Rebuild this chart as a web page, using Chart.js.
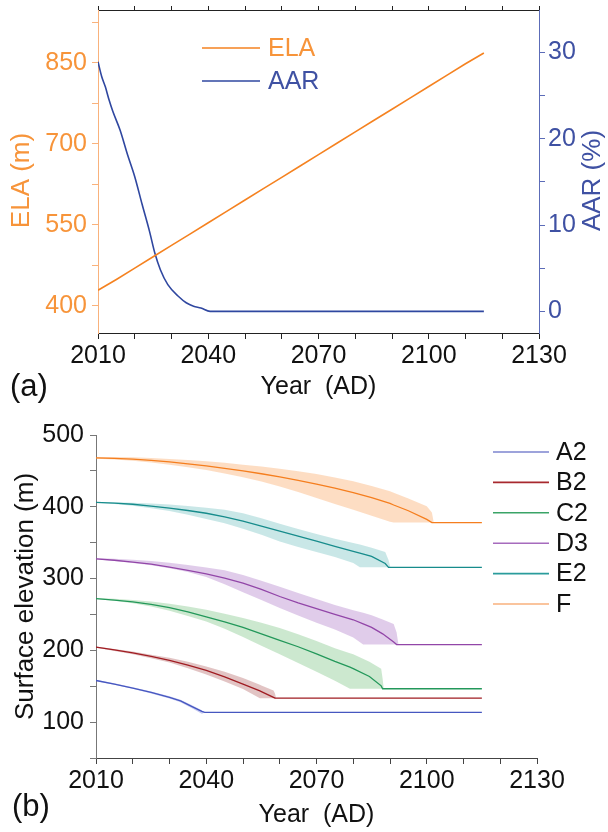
<!DOCTYPE html>
<html>
<head>
<meta charset="utf-8">
<script src="https://cdn.jsdelivr.net/npm/chart.js@4.4.0/dist/chart.umd.min.js"></script>
<style>
html, body { margin: 0; padding: 0; background: #fff; width: 608px; height: 832px; overflow: hidden; }
.panel { position: absolute; left: 0; width: 608px; }
#boxA { top: 0; height: 405px; }
#boxB { top: 405px; height: 427px; }
.tag { position: absolute; font-family: 'Liberation Sans', Arial, sans-serif; font-size: 31px; line-height: 1; color: #111; }
</style>
</head>
<body>
<div class="panel" id="boxA"><canvas id="chartA" width="608" height="405"></canvas></div>
<div class="panel" id="boxB"><canvas id="chartB" width="608" height="427"></canvas></div>
<div class="tag" style="left:10px;top:370px">(a)</div>
<div class="tag" style="left:12px;top:790px">(b)</div>
<script>
// ---- panel (a): ELA and AAR ----
const ELA_YEARS = [2010, 2015, 2020, 2025, 2030, 2035, 2040, 2045, 2050, 2055, 2060, 2065, 2070, 2075, 2080, 2085, 2090, 2095, 2100, 2105, 2110, 2115];
const ELA_M = [429, 449, 470, 491, 512, 533, 554, 575, 596, 617, 638, 659, 680, 701, 722, 743, 764, 785, 806, 827, 848, 868];

const AAR_YEARS = [2010, 2011, 2012, 2013, 2014, 2016, 2018, 2020, 2022, 2024, 2025.5, 2027, 2029, 2032, 2034, 2036, 2038, 2040.5, 2060, 2080, 2100, 2115];
const AAR_PCT = [28.9, 27.2, 26.0, 24.5, 23.2, 21.0, 18.2, 15.6, 12.4, 9.3, 6.7, 4.8, 3.1, 1.7, 1.0, 0.6, 0.4, 0, 0, 0, 0, 0];

// ---- panel (b): surface elevation (m), mean and range per glacier ----
const A2_YEARS = [2010, 2015, 2020, 2025, 2030, 2033, 2036, 2038.8, 2039.6, 2115];
const A2_MEAN = [158, 153, 147.5, 141.5, 134.5, 129.5, 122, 115, 113.5, 113.5];
const A2_UP = [159, 154, 148.5, 142.5, 136, 131, 124, 116.5, 113.5, 113.5];
const A2_LOW = [157, 152, 146.5, 140, 133, 127.5, 119.5, 111.5, 113.5, 113.5];

const B2_YEARS = [2010, 2015, 2020, 2025, 2030, 2035, 2040, 2045, 2050, 2054.6, 2055, 2058.3, 2058.7, 2059, 2115];
const B2_MEAN = [204.5, 200.5, 196.5, 191.5, 186, 179.5, 172, 163, 153, 143.5, 142.5, 134.5, 133.4, 133.4, 133.4];
const B2_UP = [205.5, 202, 198.5, 194, 189.5, 184, 177.5, 170, 161.5, 152, 151, 144, 140, 133.4, 133.4];
const B2_LOW = [203.5, 199, 194.5, 189, 183, 175, 166.5, 156.5, 146, 133.4, 133.4, 133.4, 133.4, 133.4, 133.4];

const C2_YEARS = [2010, 2015, 2020, 2025, 2030, 2035, 2040, 2045, 2050, 2055, 2060, 2065, 2070, 2075, 2079.1, 2080, 2084.4, 2087.6, 2088, 2088.3, 2115];
const C2_MEAN = [272, 270, 267.5, 264, 259.5, 253.5, 246.5, 239.5, 232, 223, 214, 205, 195, 184.5, 176.5, 174.5, 163.6, 150.5, 146.5, 146.5, 146.5];
const C2_UP = [272.8, 271.8, 270.2, 268, 265, 261, 256.5, 251, 245, 238.5, 231, 222.5, 213, 203, 196, 194.5, 184, 174.3, 160, 146.5, 146.5];
const C2_LOW = [271.5, 269, 265.5, 261, 255, 248, 240, 230, 218.5, 206.5, 194.5, 182.5, 170, 157.5, 146.5, 146.5, 146.5, 146.5, 146.5, 146.5, 146.5];

const D3_YEARS = [2010, 2015, 2020, 2025, 2030, 2035, 2040, 2045, 2050, 2055, 2060, 2065, 2070, 2075, 2080, 2082.7, 2085, 2088, 2091, 2091.8, 2092.3, 2115];
const D3_MEAN = [327.5, 325.5, 323, 320, 316, 311.5, 306.5, 300.5, 293.5, 285, 275, 266, 258, 250, 242.6, 237, 232, 223, 211.5, 208, 208, 208];
const D3_UP = [328.5, 327.6, 326.2, 324.4, 322, 319, 315.5, 311.5, 305, 297, 288.5, 280, 271.5, 263, 256, 252.5, 249, 243, 236.6, 225, 208, 208];
const D3_LOW = [327, 324.6, 321.8, 318.4, 314.4, 309, 302, 292, 281, 270, 259, 248.5, 238.5, 229, 218, 208, 208, 208, 208, 208, 208, 208];

const E2_YEARS = [2010, 2015, 2020, 2025, 2030, 2035, 2040, 2045, 2050, 2055, 2060, 2065, 2070, 2075, 2080, 2081.8, 2085, 2088.7, 2089.6, 2090.1, 2115];
const E2_MEAN = [406, 405, 403.5, 401, 398, 394.8, 391, 386, 380, 373.2, 366, 359, 352, 345, 338, 335.5, 331, 321, 315.6, 315.6, 315.6];
const E2_UP = [406.5, 406.2, 405.6, 404.5, 403, 401, 398.5, 396, 391, 384, 376.5, 369, 362, 355.5, 349.5, 347.5, 343, 337, 326, 315.6, 315.6];
const E2_LOW = [405.5, 404, 401.5, 398, 394, 389, 383, 377, 369.5, 361, 351.5, 344, 337, 330, 321.6, 315.6, 315.6, 315.6, 315.6, 315.6, 315.6];

const F_YEARS = [2010, 2015, 2020, 2025, 2030, 2035, 2040, 2045, 2050, 2055, 2060, 2065, 2070, 2075, 2080, 2085, 2090, 2091, 2095, 2100, 2101.4, 2101.9, 2115];
const F_MEAN = [468, 467.5, 466.4, 464.7, 462.5, 459.9, 456.9, 453.6, 450, 446, 441.7, 436.9, 431.6, 425.9, 419.7, 412.7, 404.7, 402.5, 394.5, 382.5, 378, 378, 378];
const F_UP = [469.5, 469.3, 469, 468, 466.5, 465, 463.3, 461.2, 458.7, 456, 453, 449.5, 445.7, 440.8, 435.4, 428.8, 421.5, 419.6, 411.5, 400.6, 392, 378, 378];
const F_LOW = [467, 465.8, 464, 461.6, 458.6, 455.1, 451.1, 446.5, 441.3, 435.3, 428.3, 420.5, 412.3, 404, 395.7, 387.4, 379.1, 378, 378, 378, 378, 378, 378];

// ---- ticks ----
const YEAR_TICKS = [2010, 2020, 2030, 2040, 2050, 2060, 2070, 2080, 2090, 2100, 2110, 2120, 2130];
const YEAR_LABELS = [2010, 2040, 2070, 2100, 2130];
const ELA_TICKS = [400, 475, 550, 625, 700, 775, 850, 925];
const ELA_LABELS = [400, 550, 700, 850];
const AAR_TICKS = [0, 5, 10, 15, 20, 25, 30];
const AAR_LABELS = [0, 10, 20, 30];
const ELEV_TICKS = [50, 100, 150, 200, 250, 300, 350, 400, 450, 500];
const ELEV_LABELS = [100, 200, 300, 400, 500];

const FONT = "'Liberation Sans', Arial, sans-serif";
Chart.defaults.font.family = FONT;
Chart.defaults.font.size = 25;
Chart.defaults.color = '#111';

const ORANGE = '#f58220';
const BLUE = '#2f47a0';

function pts(xs, ys) {
    return xs.map((x, i) => ({ x: x, y: ys[i] }));
}
function setTicks(list) {
    return function(scale) { scale.ticks = list.map(v => ({ value: v })); };
}
function labelIf(list) {
    return function(v) { return list.includes(v) ? String(v) : ''; };
}
function fixW(w) {
    return function(s) { s.width = w; s.paddingTop = 0; s.paddingBottom = 0; };
}
function fixH(h) {
    return function(s) { s.height = h; s.paddingLeft = 0; s.paddingRight = 0; };
}

// leyenda y titulos del panel (a)
const extrasA = {
    id: 'extrasA',
    afterDraw(chart) {
        const ctx = chart.ctx;
        ctx.save();
        chart.data.datasets.forEach((ds, i) => {
            const y = 48 + i * 33;
            ctx.strokeStyle = ds.borderColor;
            ctx.lineWidth = 1.6;
            ctx.beginPath();
            ctx.moveTo(202, y);
            ctx.lineTo(260, y);
            ctx.stroke();
            ctx.fillStyle = ds.textColor;
            ctx.font = '25px ' + FONT;
            ctx.textBaseline = 'middle';
            ctx.fillText(ds.label, 268, y + 1);
        });
        const mid = (chart.chartArea.top + chart.chartArea.bottom) / 2 + 9;
        ctx.font = '26px ' + FONT;
        ctx.textAlign = 'center';
        ctx.textBaseline = 'middle';
        ctx.fillStyle = '#f7943a';
        ctx.translate(22, mid);
        ctx.rotate(-Math.PI / 2);
        ctx.fillText('ELA (m)', 0, 0);
        ctx.restore();

        ctx.save();
        ctx.font = '26px ' + FONT;
        ctx.textAlign = 'center';
        ctx.textBaseline = 'middle';
        ctx.fillStyle = '#3f51a3';
        ctx.translate(593, mid);
        ctx.rotate(-Math.PI / 2);
        ctx.fillText('AAR (%)', 0, 0);
        ctx.restore();
    }
};

new Chart(document.getElementById('chartA'), {
    type: 'line',
    data: {
        datasets: [
            { label: 'ELA', data: pts(ELA_YEARS, ELA_M), yAxisID: 'y', borderColor: ORANGE, textColor: '#f7943a', borderWidth: 1.6, pointRadius: 0 },
            { label: 'AAR', data: pts(AAR_YEARS, AAR_PCT), yAxisID: 'y2', borderColor: BLUE, textColor: '#3f51a3', borderWidth: 1.6, pointRadius: 0, cubicInterpolationMode: 'monotone' }
        ]
    },
    options: {
        responsive: false,
        animation: false,
        layout: { padding: 0 },
        plugins: { legend: { display: false }, tooltip: { enabled: false } },
        scales: {
            x: {
                type: 'linear', position: 'bottom', min: 2010, max: 2130,
                afterBuildTicks: setTicks(YEAR_TICKS), afterFit: fixH(72),
                ticks: { callback: labelIf(YEAR_LABELS), autoSkip: false, maxRotation: 0, padding: 2, color: '#111' },
                grid: { drawOnChartArea: false, tickLength: 6, color: '#222' },
                border: { color: '#222' },
                title: { display: true, text: 'Year  (AD)', color: '#111', font: { size: 25 }, padding: { top: 0, bottom: 3 } }
            },
            xTop: {
                type: 'linear', position: 'top', min: 2010, max: 2130,
                afterBuildTicks: setTicks(YEAR_TICKS), afterFit: fixH(10),
                ticks: { display: false },
                grid: { drawOnChartArea: false, tickLength: 4, color: '#222' },
                border: { color: '#222' }
            },
            y: {
                position: 'left', min: 350, max: 947.5,
                afterBuildTicks: setTicks(ELA_TICKS), afterFit: fixW(98),
                ticks: { callback: labelIf(ELA_LABELS), autoSkip: false, padding: 5, color: '#f7943a' },
                grid: { drawOnChartArea: false, tickLength: 6, color: '#f9b27c' },
                border: { color: '#f9b27c' }
            },
            y2: {
                position: 'right', min: -2.5, max: 34.9,
                afterBuildTicks: setTicks(AAR_TICKS), afterFit: fixW(69),
                ticks: { callback: labelIf(AAR_LABELS), autoSkip: false, padding: 3, color: '#3f51a3' },
                grid: { drawOnChartArea: false, tickLength: 6, color: '#5c6cb8' },
                border: { color: '#5c6cb8' }
            }
        }
    },
    plugins: [extrasA]
});

// ---- panel (b) ----
const GLACIERS = [
    { name: 'A2', years: A2_YEARS, mean: A2_MEAN, up: A2_UP, low: A2_LOW, line: '#4657c0', band: 'rgba(100,110,215,0.38)', key: '#7d84cf' },
    { name: 'B2', years: B2_YEARS, mean: B2_MEAN, up: B2_UP, low: B2_LOW, line: '#a01c22', band: 'rgba(165,70,70,0.32)', key: '#a8292e' },
    { name: 'C2', years: C2_YEARS, mean: C2_MEAN, up: C2_UP, low: C2_LOW, line: '#23985a', band: 'rgba(95,185,105,0.32)', key: '#3aa467' },
    { name: 'D3', years: D3_YEARS, mean: D3_MEAN, up: D3_UP, low: D3_LOW, line: '#9246a8', band: 'rgba(165,110,195,0.35)', key: '#a66bbd' },
    { name: 'E2', years: E2_YEARS, mean: E2_MEAN, up: E2_UP, low: E2_LOW, line: '#178c8c', band: 'rgba(75,175,175,0.3)', key: '#2a9c9c' },
    { name: 'F', years: F_YEARS, mean: F_MEAN, up: F_UP, low: F_LOW, line: '#f57e1e', band: 'rgba(250,170,105,0.4)', key: '#f8b07c' }
];

const datasetsB = [];
GLACIERS.forEach(g => {
    datasetsB.push({ data: pts(g.years, g.up), borderColor: 'transparent', borderWidth: 0, pointRadius: 0, fill: false, order: 2 });
    datasetsB.push({ data: pts(g.years, g.low), borderColor: 'transparent', borderWidth: 0, pointRadius: 0, fill: '-1', backgroundColor: g.band, order: 2 });
    datasetsB.push({ label: g.name, data: pts(g.years, g.mean), borderColor: g.line, keyColor: g.key, borderWidth: 1.3, pointRadius: 0, fill: false, order: 1 });
});

const legendB = {
    id: 'legendB',
    afterDraw(chart) {
        const ctx = chart.ctx;
        ctx.save();
        let row = 0;
        chart.data.datasets.forEach(ds => {
            if (!ds.label) return;
            const y = 47 + row * 30.4;
            ctx.strokeStyle = ds.keyColor;
            ctx.lineWidth = 1.6;
            ctx.beginPath();
            ctx.moveTo(493, y);
            ctx.lineTo(549, y);
            ctx.stroke();
            ctx.fillStyle = '#111';
            ctx.font = '25px ' + FONT;
            ctx.textBaseline = 'middle';
            ctx.fillText(ds.label, 556, y + 1);
            row++;
        });
        ctx.restore();
    }
};

new Chart(document.getElementById('chartB'), {
    type: 'line',
    data: { datasets: datasetsB },
    options: {
        responsive: false,
        animation: false,
        layout: { padding: { top: 30, right: 71, left: 0, bottom: 0 } },
        plugins: { legend: { display: false }, tooltip: { enabled: false } },
        scales: {
            x: {
                type: 'linear', position: 'bottom', min: 2010, max: 2130,
                afterBuildTicks: setTicks(YEAR_TICKS), afterFit: fixH(74),
                ticks: { callback: labelIf(YEAR_LABELS), autoSkip: false, maxRotation: 0, padding: 2, color: '#111' },
                grid: { drawOnChartArea: false, tickLength: 6, color: '#444' },
                border: { color: '#444' },
                title: { display: true, text: 'Year  (AD)', color: '#111', font: { size: 25 }, padding: { top: 0, bottom: 2 } }
            },
            y: {
                position: 'left', min: 50, max: 500,
                afterBuildTicks: setTicks(ELEV_TICKS), afterFit: fixW(96),
                ticks: { callback: labelIf(ELEV_LABELS), autoSkip: false, padding: 6, color: '#111' },
                grid: { drawOnChartArea: false, tickLength: 6, color: '#777' },
                border: { color: '#777' },
                title: { display: true, text: 'Surface elevation (m)', color: '#111', font: { size: 26 }, padding: { top: 10, bottom: 0 } }
            }
        }
    },
    plugins: [legendB]
});
</script>
</body>
</html>
